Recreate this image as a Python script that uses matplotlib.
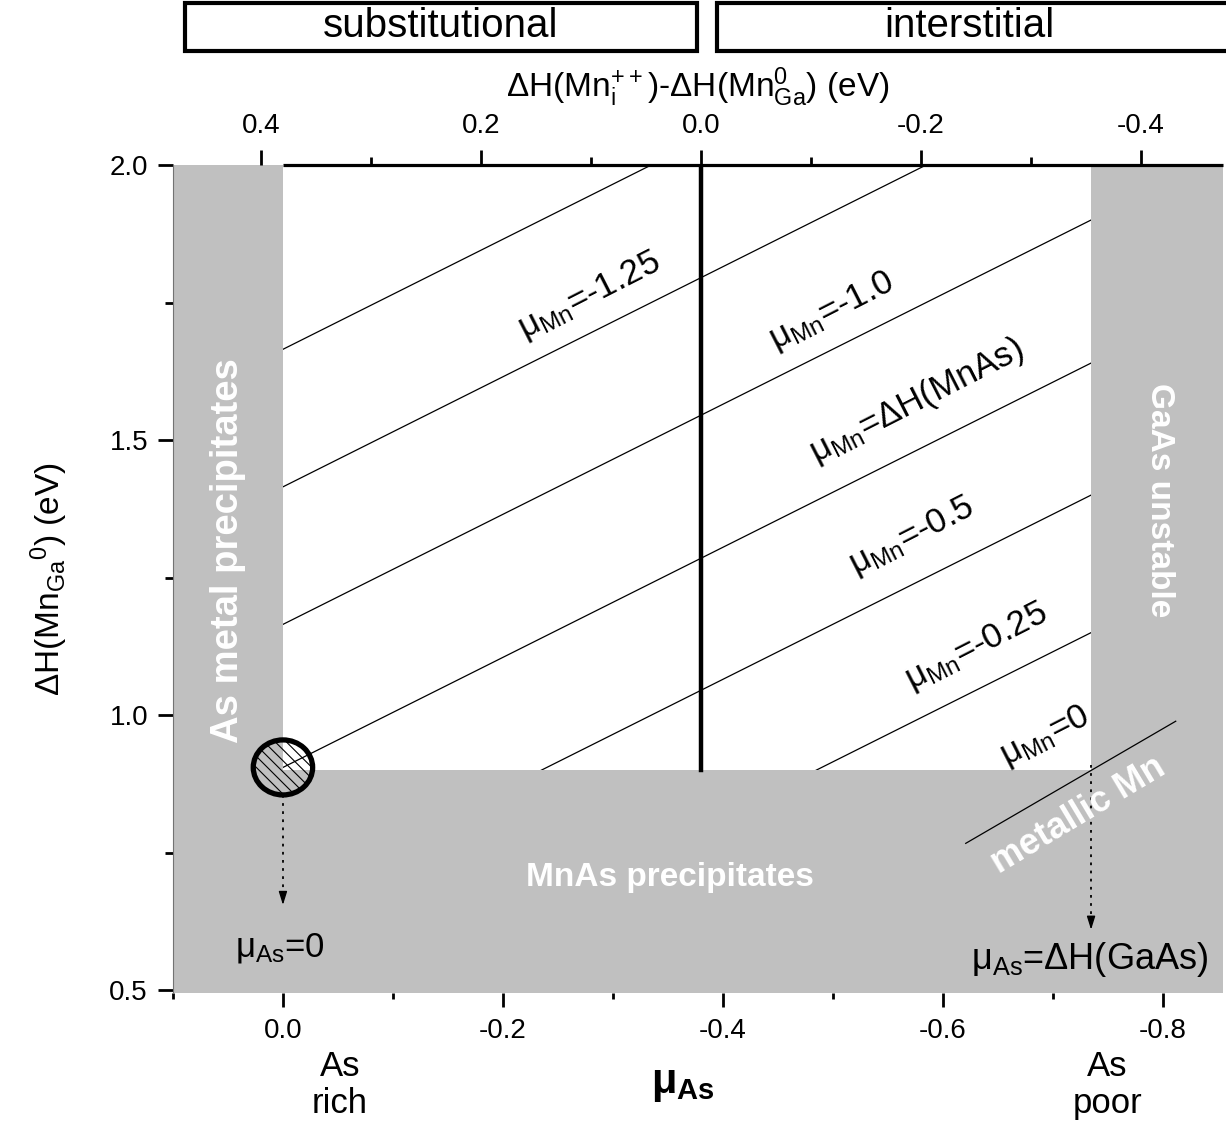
import matplotlib.pyplot as plt
from matplotlib.patches import Rectangle, Ellipse
from matplotlib.ticker import MultipleLocator

plt.rcParams['font.family'] = ['Liberation Sans', 'DejaVu Sans']
plt.rcParams['mathtext.default'] = 'regular'
plt.rcParams['hatch.linewidth'] = 0.8

# chemical potential limits (eV)
mu_as_rich = 0.0
mu_as_poor = -0.735          # dH(GaAs)
dh_mnas_floor = 0.905        # MnAs precipitation limit on dH(Mn_Ga)
sub_int_border = -0.38       # where dH(Mn_i++) = dH(Mn_Ga0)
top_offset = 0.38

# iso-mu_Mn lines: dH(Mn_Ga0) at mu_As = 0
line_intercepts = [1.665, 1.415, 1.165, 0.905, 0.665, 0.415]
line_labels = ['', r'μ$_{Mn}$=-1.25', r'μ$_{Mn}$=-1.0', r'μ$_{Mn}$=ΔH(MnAs)',
               r'μ$_{Mn}$=-0.5', r'μ$_{Mn}$=-0.25']
label_pos = [None, (-0.279, 1.762), (-0.499, 1.734), (-0.576, 1.571),
             (-0.572, 1.325), (-0.631, 1.125)]
mu0_label_pos = (-0.693, 0.962)
# mu_Mn = 0 segment inside the metallic Mn region
metal_x = [-0.621, -0.812]
metal_y = [0.767, 0.989]

xlim = (0.1, -0.855)
ylim = (0.495, 2.0)
gray = '#c0c0c0'

fig = plt.figure(figsize=(12.26, 11.3), dpi=100)
ax = fig.add_axes([173 / 1226, 1 - 993 / 1130, 1050 / 1226, 828 / 1130])
ax.set_xlim(*xlim)
ax.set_ylim(*ylim)

for c in line_intercepts:
    ax.axline((0, c), slope=-1, color='black', lw=0.9, zorder=1.5)

# forbidden regions
ax.axvspan(xlim[0], mu_as_rich, color=gray, lw=0, zorder=2)
ax.axhspan(ylim[0], dh_mnas_floor - 0.005, color=gray, lw=0, zorder=2)
ax.axvspan(mu_as_poor, xlim[1], color=gray, lw=0, zorder=2)

ax.plot(metal_x, metal_y, color='black', lw=0.9, zorder=3)
ax.plot([sub_int_border, sub_int_border], [dh_mnas_floor - 0.005, ylim[1]],
        color='black', lw=3.2, zorder=3)
ax.plot([mu_as_rich, xlim[1]], [ylim[1], ylim[1]], color='black', lw=2.3,
        zorder=3, clip_on=False, solid_capstyle='butt')

ax.add_patch(Ellipse((mu_as_rich, dh_mnas_floor), 0.054, 0.1, facecolor='none',
                     edgecolor='black', lw=3.8, hatch='\\\\\\', zorder=4))

# dotted arrows to the mu_As limits
for x, y0, y1 in [(mu_as_rich, 0.855, 0.65), (mu_as_poor, 0.909, 0.605)]:
    ax.plot([x, x], [y0, y1 + 0.02], color='black', lw=1.3, ls=(0, (1.5, 3)), zorder=4)
    ax.annotate('', xy=(x, y1), xytext=(x, y1 + 0.03),
                arrowprops=dict(arrowstyle='-|>,head_length=0.8,head_width=0.25',
                                color='black', lw=1.0), zorder=4)

for lab, pos in zip(line_labels, label_pos):
    if lab:
        ax.text(pos[0], pos[1], lab, fontsize=25, rotation=27, ha='center',
                va='center', rotation_mode='anchor', zorder=5)
ax.text(*mu0_label_pos, r'μ$_{Mn}$=0', fontsize=25, rotation=27, ha='center',
        va='center', rotation_mode='anchor', zorder=5)

white = dict(color='white', fontweight='bold', zorder=5, ha='center', va='center')
ax.text(0.05, 1.30, 'As metal precipitates', fontsize=27.5, rotation=90, **white)
ax.text(-0.797, 1.39, 'GaAs unstable', fontsize=24, rotation=-90, **white)
ax.text(-0.352, 0.705, 'MnAs precipitates', fontsize=24, **white)
ax.text(-0.723, 0.818, 'metallic Mn', fontsize=26, rotation=31,
        rotation_mode='anchor', **white)

ax.text(0.003, 0.576, r'μ$_{As}$=0', fontsize=25, ha='center', va='center', zorder=5)
ax.text(-0.734, 0.555, r'μ$_{As}$=ΔH(GaAs)', fontsize=26, ha='center',
        va='center', zorder=5)
ax.text(-0.052, 0.327, 'As\nrich', fontsize=25, ha='center', va='center',
        linespacing=1.15, clip_on=False)
ax.text(-0.75, 0.327, 'As\npoor', fontsize=25, ha='center', va='center',
        linespacing=1.15, clip_on=False)
ax.text(-0.364, 0.33, r'μ$_{As}$', fontsize=30, fontweight='bold', ha='center',
        va='center', clip_on=False)
ax.set_ylabel(r'ΔH(Mn$_{Ga}$$^{0}$) (eV)', fontsize=24, labelpad=28)

# axes styling
for s in ['top', 'right', 'bottom']:
    ax.spines[s].set_visible(False)
ax.spines['left'].set_color('0.45')
ax.spines['left'].set_linewidth(0.8)
ax.spines['left'].set_zorder(4)
ax.xaxis.set_major_locator(MultipleLocator(0.2))
ax.xaxis.set_minor_locator(MultipleLocator(0.1))
ax.yaxis.set_major_locator(MultipleLocator(0.5))
ax.yaxis.set_minor_locator(MultipleLocator(0.25))
ax.tick_params(which='major', direction='out', length=10, width=2, labelsize=20, pad=8)
ax.tick_params(which='minor', direction='out', length=4, width=2)
ax.tick_params(axis='y', which='major', length=11, pad=7)
ax.tick_params(axis='y', which='minor', length=6)
ax.xaxis.set_major_formatter(plt.FuncFormatter(lambda v, p: f'{v:.1f}'))

ax2 = ax.twiny()
ax2.set_xlim(xlim[0] + top_offset, xlim[1] + top_offset)
for s in ax2.spines.values():
    s.set_visible(False)
ax2.xaxis.set_major_locator(MultipleLocator(0.2))
ax2.xaxis.set_minor_locator(MultipleLocator(0.1))
ax2.tick_params(which='major', direction='out', length=11, width=2, labelsize=20, pad=8)
ax2.tick_params(which='minor', direction='out', length=6, width=2)
ax2.xaxis.set_major_formatter(plt.FuncFormatter(lambda v, p: f'{v:.1f}'))
ax2.set_xlabel(r'ΔH(Mn$_{i}^{++}$)-ΔH(Mn$_{Ga}^{0}$) (eV)', fontsize=24, labelpad=11)

# substitutional / interstitial boxes
for x0, x1, txt in [(185, 697, 'substitutional'), (717, 1232, 'interstitial')]:
    fig.patches.append(Rectangle((x0 / 1226, 1 - 51 / 1130), (x1 - x0) / 1226,
                                 48 / 1130, transform=fig.transFigure,
                                 facecolor='white', edgecolor='black', lw=3))
    fig.text((x0 + min(x1, 1226)) / 2 / 1226 - (0.002 if x1 > 1226 else 0),
             1 - 26 / 1130, txt, fontsize=29, ha='center', va='center')

fig.savefig('out.png', dpi=100)
